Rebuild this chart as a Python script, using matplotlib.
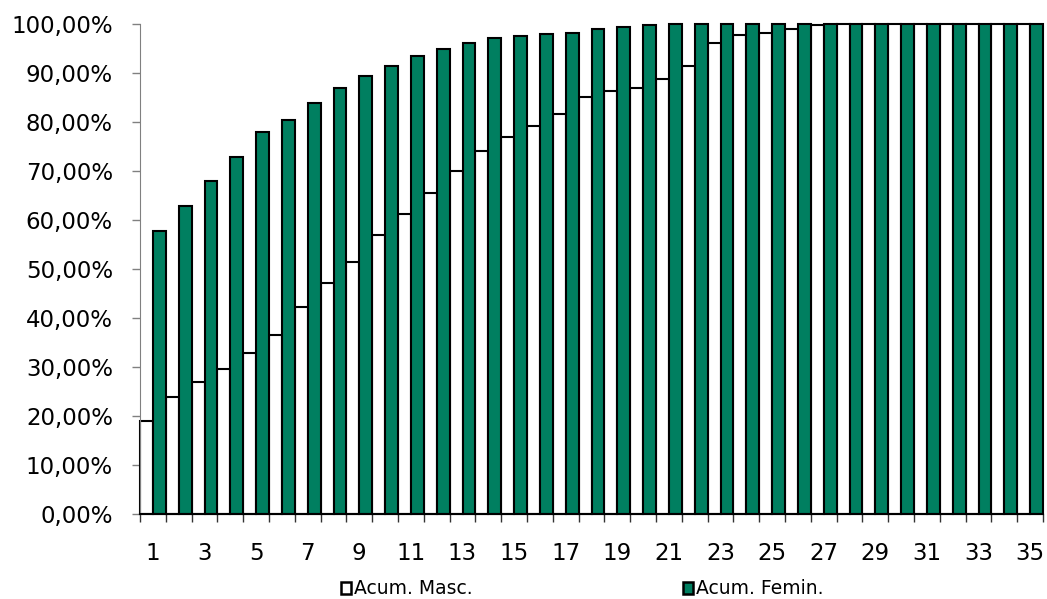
import matplotlib
matplotlib.use("Agg")
import matplotlib.pyplot as plt
import numpy as np
from matplotlib.patches import Patch
from matplotlib.ticker import FuncFormatter, FixedLocator

# data (cumulative %)
categories = list(range(1, 36))
acum_masc = [19.0, 23.8, 26.9, 29.5, 32.8, 36.6, 42.2, 47.1, 51.4, 57.0,
             61.2, 65.6, 70.0, 74.0, 77.0, 79.2, 81.6, 85.1, 86.3, 87.0,
             88.8, 91.5, 96.2, 97.8, 98.1, 98.9, 99.8, 100, 100, 100,
             100, 100, 100, 100, 100]
acum_femin = [57.7, 62.9, 67.9, 72.8, 78.0, 80.4, 83.9, 86.9, 89.4, 91.4,
              93.5, 95.0, 96.2, 97.1, 97.5, 97.9, 98.1, 98.9, 99.3, 99.7,
              100, 100, 100, 100, 100, 100, 100, 100, 100, 100,
              100, 100, 100, 100, 100]
series_names = ["Acum. Masc.", "Acum. Femin."]

green = "#007F60"
plt.rcParams['font.family'] = ['DejaVu Sans']

fig = plt.figure(figsize=(10.47, 5.99), dpi=100)
ax = fig.add_axes([140/1047, 1-514/599, 903/1047, 490/599])

x = np.array(categories)
w = 0.5
ax.bar(x - w/2, np.array(acum_masc)/100, width=w, color="white",
       edgecolor="black", linewidth=1.5, clip_on=False, zorder=2)
ax.bar(x + w/2, np.array(acum_femin)/100, width=w, color=green,
       edgecolor="black", linewidth=1.5, clip_on=False, zorder=2)

ax.set_xlim(0.5, 35.5)
ax.set_ylim(0, 1)

# y axis
ax.set_yticks(np.arange(0, 1.01, 0.1))
ax.yaxis.set_major_formatter(FuncFormatter(lambda v, p: ("%.2f%%" % (v*100)).replace(".", ",")))
ax.tick_params(axis='y', length=6, width=1, color="#808080", pad=13.5, labelsize=16.5)

# x axis: labels on odd categories, ticks on boundaries
ax.xaxis.set_major_locator(FixedLocator(categories[::2]))
ax.xaxis.set_minor_locator(FixedLocator(np.arange(0.5, 36, 1)))
ax.tick_params(axis='x', which='major', length=0, pad=20, labelsize=16.5)
ax.tick_params(axis='x', which='minor', length=6, width=1, color="#333333")

ax.spines['top'].set_visible(False)
ax.spines['right'].set_visible(False)
ax.spines['left'].set_color("#808080")
ax.spines['bottom'].set_color("black")
ax.spines['bottom'].set_linewidth(1.5)
ax.spines['bottom'].set_zorder(3)

handles = [Patch(facecolor="white", edgecolor="black", linewidth=1.8),
           Patch(facecolor=green, edgecolor="black", linewidth=1.8)]
fig.legend(handles, series_names, loc="center left",
           bbox_to_anchor=(341/1047, 1-589/599), ncol=2, frameon=False,
           fontsize=13.5, handlelength=0.55, handleheight=0.55,
           handletextpad=0.15, columnspacing=11.2, borderpad=0, borderaxespad=0)

fig.savefig("out.png", dpi=100)
